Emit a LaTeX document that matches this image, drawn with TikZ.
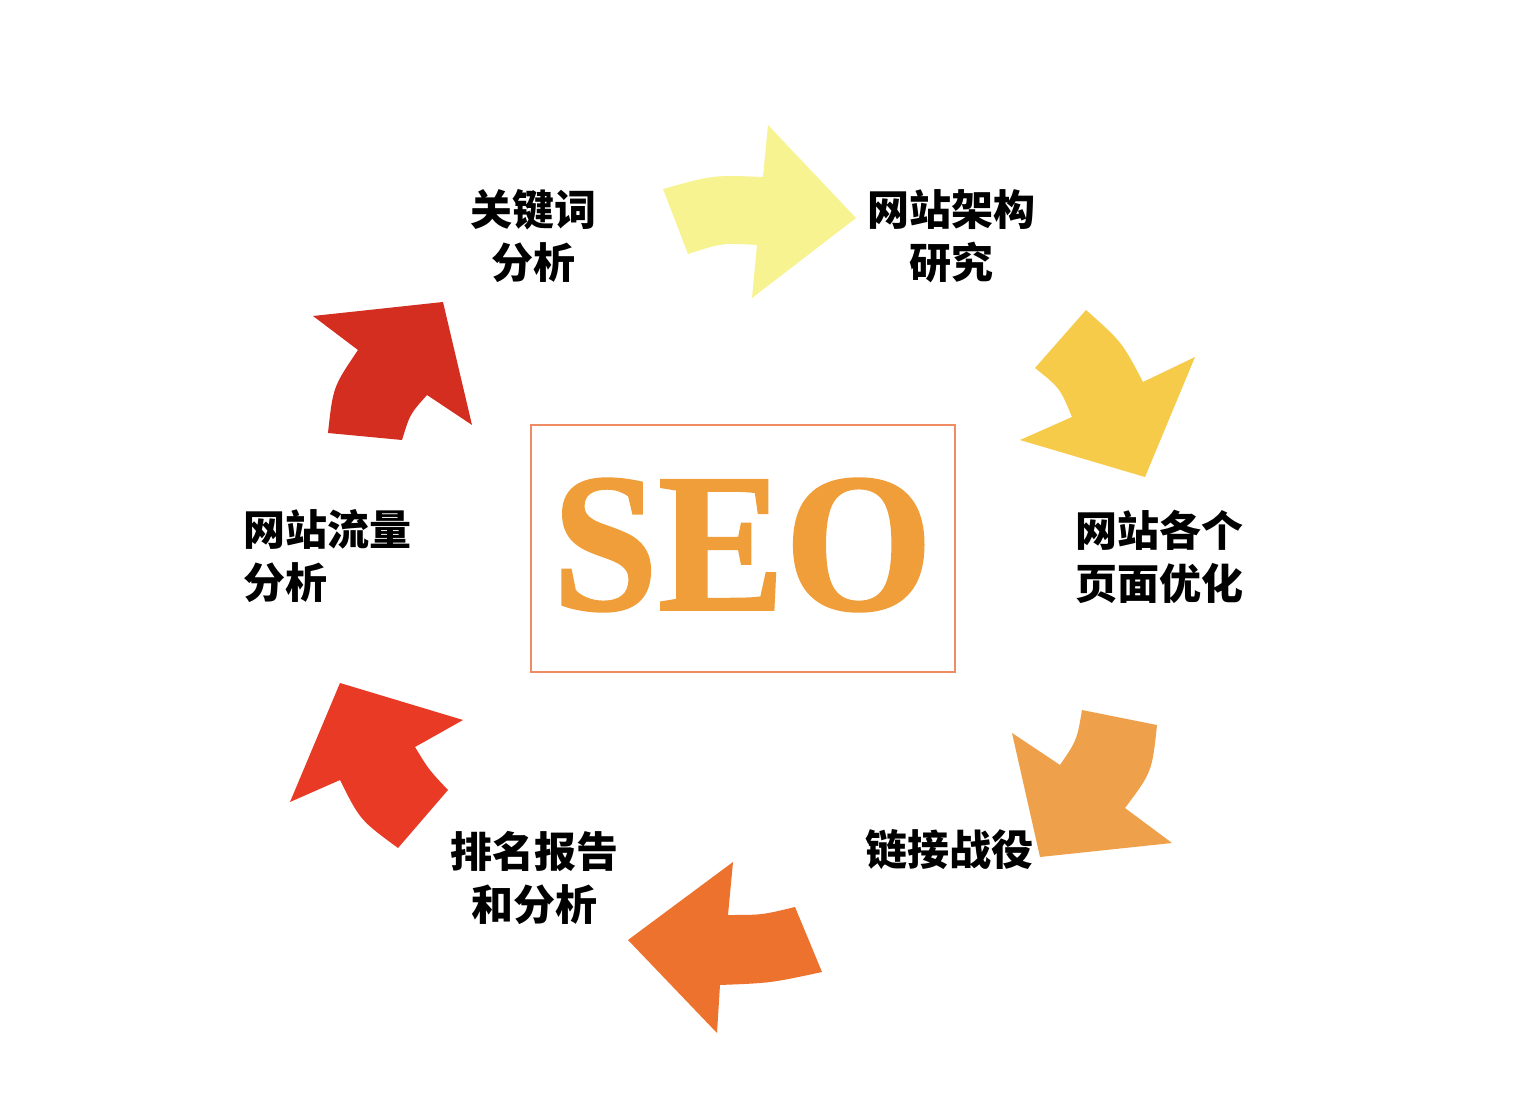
\documentclass[tikz,border=0pt]{standalone}
\usepackage{fontspec}
\setmainfont{Liberation Serif}
\newfontfamily\seofont{Liberation Serif Bold}[FakeBold=1.2]
\newfontfamily\cjk{Noto Sans CJK SC}
\definecolor{aone}{RGB}{247,243,145}
\definecolor{atwo}{RGB}{246,203,74}
\definecolor{athree}{RGB}{239,160,74}
\definecolor{afour}{RGB}{236,114,45}
\definecolor{afive}{RGB}{232,58,37}
\definecolor{asix}{RGB}{212,46,33}
\definecolor{seoc}{RGB}{240,158,58}
\definecolor{boxc}{RGB}{240,140,100}
\tikzset{
  lbl/.style={inner sep=0pt, font=\cjk\bfseries\fontsize{42}{53}\selectfont, text=black},
}
\begin{document}
\begin{tikzpicture}[x=1pt,y=-1pt]
\useasboundingbox[fill=white] (0,0) rectangle (1519,1115);
% arrows
\fill[aone] (663,189) .. controls (713,175) .. (763,177) -- (768,125) -- (856,218) -- (752,298) -- (757,245) .. controls (722,243) .. (688,254) -- cycle;
\fill[atwo] (1086,310) .. controls (1122,342) .. (1143,382) -- (1195,357) -- (1145,477) -- (1020,440) -- (1072,417) .. controls (1060,388) .. (1035,368) -- cycle;
\fill[athree] (1082,710) -- (1157,725) .. controls (1152,772) .. (1125,808) -- (1172,843) -- (1040,857) -- (1012,733) -- (1060,765) .. controls (1077,740) .. (1082,710) -- cycle;
\fill[afour] (795,907) -- (822,972) .. controls (771,983) .. (720,985) -- (717,1033) -- (628,940) -- (733,862) -- (728,915) .. controls (762,915) .. (795,907) -- cycle;
\fill[afive] (340,683) -- (463,720) -- (415,747) .. controls (429,770) .. (448,790) -- (398,848) .. controls (360,820) .. (340,780) -- (290,802) -- cycle;
\fill[asix] (313,316) -- (443,302) -- (472,425) -- (427,395) .. controls (410,414) .. (402,440) -- (328,433) .. controls (333,387) .. (358,350) -- cycle;
% center
\node[draw=boxc, line width=1.5pt, minimum width=424pt, minimum height=247pt, inner sep=0pt] (box) at (743,548.5) {};
\node[inner sep=0pt, text=seoc, font=\seofont\fontsize{198}{198}\selectfont] (seo) at (742.5,545) {\scalebox{0.96}[1]{SEO}};
% labels
\node[lbl, align=center] (l1) at (533,236.5) {关键词\\分析};
\node[lbl, align=center] (l2) at (951,236.5) {网站架构\\研究};
\node[lbl, align=center] (l3) at (1159,556.5) {网站各个\\页面优化};
\node[lbl, align=center] (l4) at (949,850) {链接战役};
\node[lbl, align=center] (l5) at (534,877.5) {排名报告\\和分析};
\node[lbl, align=left, anchor=west] (l6) at (243,556.5) {网站流量\\分析};
\end{tikzpicture}
\end{document}
